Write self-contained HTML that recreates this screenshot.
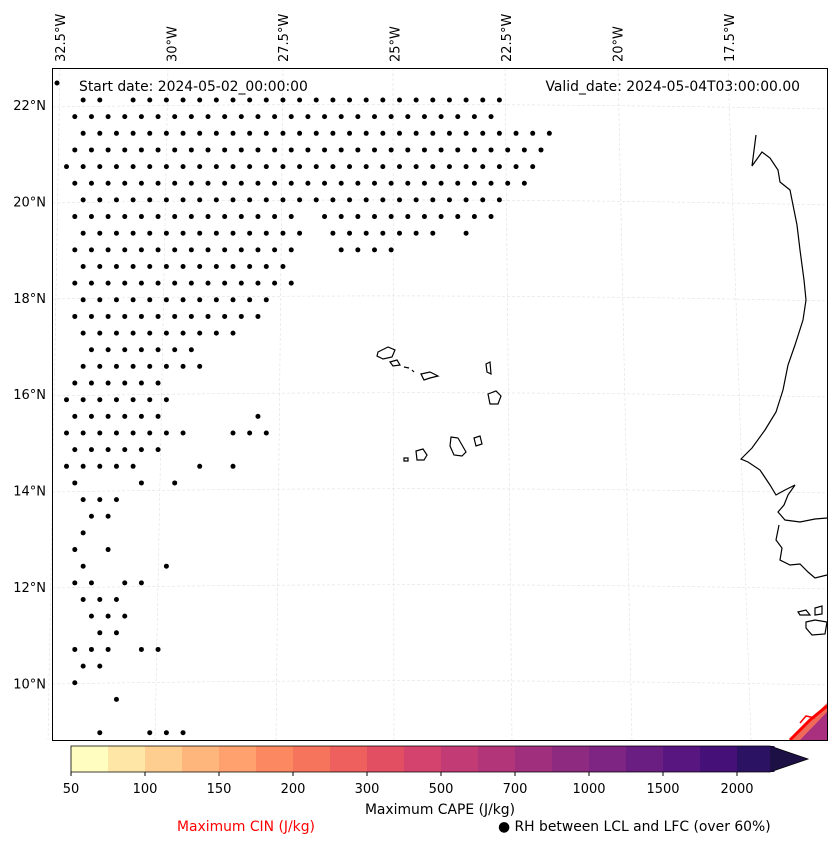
<!DOCTYPE html>
<html><head><meta charset="utf-8"><style>
html,body{margin:0;padding:0;background:#fff;}
svg{display:block;font-family:"DejaVu Sans","Liberation Sans",sans-serif;}
</style></head><body>
<svg id="s" width="837" height="845" viewBox="0 0 837 845">
<g id="grid" stroke="#e0e0e0" stroke-width="0.6" stroke-dasharray="3,2" fill="none">
  <path d="M60 68 L48 740"/><path d="M168 68 L155 740"/><path d="M283 68 L276 740"/><path d="M393 68 L394 740"/><path d="M505 68 L512 740"/><path d="M618 68 L632 740"/><path d="M728 68 L751 740"/>
  <path d="M52 107 Q440 101 827 109"/><path d="M52 203 Q440 196 827 205"/><path d="M52 299 Q440 292 827 301"/><path d="M52 396 Q440 389 827 397"/><path d="M52 492 Q440 485 827 493"/><path d="M52 588 Q440 581 827 589"/><path d="M52 684 Q440 677 827 685"/>
</g>
<g id="dots"></g>
<g fill="none" stroke="#000" stroke-width="1.2">
  <path d="M756 135 L752 166 L762 152 L770 158 L778 170 L780 182 L790 190 L793 205 L797 225 L800 250 L804 280 L806 300 L803 320 L795 345 L788 365 L783 390 L776 412 L765 430 L752 448 L741 459 L748 462 L760 470 L770 485 L776 495 L785 490 L795 485 L788 495 L784 505 L778 512 L785 520 L800 522 L815 519 L827 518"/>
  <path d="M779 525 L776 540 L782 548 L780 560 L790 565 L800 564 L808 572 L815 578 L827 575"/>
  <path d="M798 612 L806 610 L810 615 L800 615 Z M815 608 L822 606 L822 614 L815 615 Z M806 622 L815 620 L827 622 L825 634 L812 635 L806 628 Z"/>
</g>
<g fill="none" stroke="#000" stroke-width="1.2">
  <path d="M378 352 L388 347 L395 350 L392 357 L383 359 L377 356 Z"/>
  <path d="M390 362 L397 360 L400 365 L393 366 Z"/>
  <path d="M404 367 L409 368 M412 370 L414 372"/>
  <path d="M421 374 L430 372 L438 376 L430 378 L424 380 Z"/>
  <path d="M486 364 L490 362 L491 374 L487 372 Z"/>
  <path d="M488 394 L496 391 L501 396 L498 404 L490 404 Z"/>
  <path d="M451 437 L458 438 L462 445 L466 452 L462 456 L454 455 L450 446 Z"/>
  <path d="M474 438 L480 436 L482 444 L476 446 Z"/>
  <path d="M416 451 L423 449 L427 455 L424 460 L417 460 Z"/>
  <path d="M404 458 L408 458 L408 461 L404 461 Z"/>
</g>
<g>
  <path d="M790 740 L827 703 L827 740 Z" fill="#f06a5a"/>
  <path d="M800 740 L827 712 L827 740 Z" fill="#a8307e"/>
  <path d="M790 740 L810 720 L827 706" fill="none" stroke="#f00" stroke-width="3"/>
  <path d="M800 723 L806 716 L815 718" fill="none" stroke="#f00" stroke-width="1.5"/>
</g>
<rect x="52.5" y="68.5" width="775" height="672" fill="none" stroke="#000" stroke-width="1"/>
<g font-size="13.9" fill="#000">
  <text x="79" y="91">Start date: 2024-05-02_00:00:00</text>
  <text x="800" y="91" text-anchor="end">Valid_date: 2024-05-04T03:00:00.00</text>
</g>
<g id="lat" font-size="13" text-anchor="end"></g>
<g id="lon" font-size="13"></g>
<g id="cbar"></g>
<g font-size="13.9">
  <text x="440" y="814" text-anchor="middle">Maximum CAPE (J/kg)</text>
  <text x="177" y="831" fill="#f00">Maximum CIN (J/kg)</text>
  <text x="498" y="831">● RH between LCL and LFC (over 60%)</text>
</g>
</svg>
<script>
const NS='http://www.w3.org/2000/svg';
// dot mask rows (grid rows top to bottom); listed column indices per row
const dotRows=[
[1,2,4,5,6,7,8,9,10,11,12,13,14,15,16,17,18,19,20,21,22,23,24,25,26],
[0,1,2,3,4,5,6,7,8,9,10,11,12,13,14,15,16,17,18,19,20,21,22,23,24,25],
[1,2,3,4,5,6,7,8,9,10,11,12,13,14,15,16,17,18,19,20,21,22,23,24,25,26,27,28,29],
[0,1,2,3,4,5,6,7,8,9,10,11,12,13,14,15,16,17,18,19,20,21,22,23,24,25,26,27,28],
[0,1,2,3,4,5,6,7,8,9,10,11,12,13,14,15,16,17,18,19,20,21,22,23,24,25,26,27,28],
[0,1,2,3,4,5,6,7,8,9,10,11,12,13,14,15,16,17,18,19,20,21,22,23,24,25,26,27],
[1,2,3,4,5,6,7,8,9,10,11,12,13,14,15,16,17,18,19,20,21,22,23,24,25,26],
[0,1,2,3,4,5,6,7,8,9,10,11,12,13,15,16,17,18,19,20,21,22,23,24,25],
[1,2,3,4,5,6,7,8,9,10,11,12,13,14,16,17,18,19,20,21,22,24],
[0,1,2,3,4,5,6,7,8,9,10,11,12,13,16,17,18,19],
[1,2,3,4,5,6,7,8,9,10,11,12,13],
[0,1,2,3,4,5,6,7,8,9,10,11,12,13],
[1,2,3,4,5,6,7,8,9,10,11,12],
[0,1,2,3,4,5,6,7,8,9,10,11],
[1,2,3,4,5,6,7,8,9,10],
[1,2,3,4,5,6,7],
[1,2,3,4,5,6,7,8],
[0,1,2,3,4,5],
[0,1,2,3,4,5,6],
[0,1,2,3,4,5,11],
[0,1,2,3,4,5,6,7,10,11,12],
[0,1,2,3,4,5],
[0,1,2,3,4,8,10],
[0,4,6],
[1,2,3],
[1,2],
[1],
[0,2],
[1,6],
[0,1,3,4],
[1,2,3],
[1,2,3],
[2,3],
[0,1,2,4,5],
[1,2],
[0],
[3],
[],
[2,5,6,7]
];
const latTicks=['22°N','20°N','18°N','16°N','14°N','12°N','10°N'];
const latVals=[22,20,18,16,14,12,10];
const lonTicks=['32.5°W','30°W','27.5°W','25°W','22.5°W','20°W','17.5°W'];
const lonVals=[-32.5,-30,-27.5,-25,-22.5,-20,-17.5];
const cbLevels=['50','75','100','125','150','175','200','250','300','400','500','600','700','800','1000','1250','1500','1750','2000'];
const cbColors=['#fffec0','#fee6a7','#fecd90','#feb67c','#fea16e','#fb8861','#f6735c','#ee605e','#e24f62','#d3436e','#c33b75','#b2357a','#a0307e','#8f2a81','#7e2482','#6b1e81','#581680','#451077','#2c1262','#1d1045'];

function yLat(v){return 105+(22-v)*48.2;}
function xLon(v){return 60+(v+32.5)*44.6;}
const g=document.getElementById('dots');
dotRows.forEach((cols,i)=>{
  const y=100+i*16.65;
  const x0=(i%2===0)?66.5:74.8;
  cols.forEach(k=>{
    const c=document.createElementNS(NS,'circle');
    c.setAttribute('cx',x0+k*16.65);c.setAttribute('cy',y);c.setAttribute('r',2.5);
    
    
    g.appendChild(c);
  });
});
const ed=document.createElementNS(NS,'circle');
ed.setAttribute('cx',57);ed.setAttribute('cy',83);ed.setAttribute('r',2.5);


g.appendChild(ed);

const lat=document.getElementById('lat');
latTicks.forEach((t,i)=>{
  const tx=document.createElementNS(NS,'text');
  tx.setAttribute('x',46);tx.setAttribute('y',yLat(latVals[i])+5);tx.textContent=t;
  
  
  lat.appendChild(tx);
});
const lon=document.getElementById('lon');
lonTicks.forEach((t,i)=>{
  const tx=document.createElementNS(NS,'text');
  const x=xLon(lonVals[i])+5;
  tx.setAttribute('transform','translate('+x+',62) rotate(-90)');tx.textContent=t;
  
  
  lon.appendChild(tx);
});

const cb=document.getElementById('cbar');
const bx0=71,bw=37,by=746,bh=26;
cbLevels.forEach((l,i)=>{
  const r=document.createElementNS(NS,'rect');
  r.setAttribute('x',bx0+i*bw);r.setAttribute('y',by);r.setAttribute('width',bw+0.5);r.setAttribute('height',bh);
  r.setAttribute('fill',cbColors[i]);
  
  
  cb.appendChild(r);
  if(i%2===0){
    const x=bx0+i*bw;
    const tk=document.createElementNS(NS,'line');
    tk.setAttribute('x1',x);tk.setAttribute('x2',x);tk.setAttribute('y1',772);tk.setAttribute('y2',776);tk.setAttribute('stroke','#000');
    
    
    cb.appendChild(tk);
    const tx=document.createElementNS(NS,'text');
    tx.setAttribute('x',x);tx.setAttribute('y',793);tx.setAttribute('text-anchor','middle');tx.setAttribute('font-size','13');
    tx.textContent=l;
    
    
    cb.appendChild(tx);
  }
});
const xe=bx0+cbLevels.length*bw;
const tri=document.createElementNS(NS,'path');
tri.setAttribute('d','M'+(xe-4)+' '+by+' L'+(xe+34)+' '+(by+bh/2)+' L'+(xe-4)+' '+(by+bh)+' Z');
tri.setAttribute('fill',cbColors[cbColors.length-1]);


cb.appendChild(tri);
const fr=document.createElementNS(NS,'path');
fr.setAttribute('d','M'+bx0+' '+by+' L'+(xe-4)+' '+by+' L'+(xe+34)+' '+(by+bh/2)+' L'+(xe-4)+' '+(by+bh)+' L'+bx0+' '+(by+bh)+' Z');
fr.setAttribute('fill','none');fr.setAttribute('stroke','#000');fr.setAttribute('stroke-width','0.8');


cb.appendChild(fr);
</script>
</body></html>
